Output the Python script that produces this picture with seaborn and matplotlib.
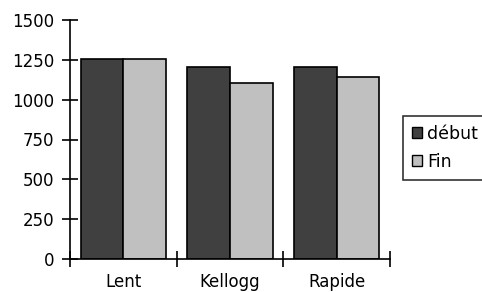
import pandas as pd
import seaborn as sns
import matplotlib.pyplot as plt
from matplotlib.patches import Patch

# valeurs
categories = ['Lent', 'Kellogg', 'Rapide']
series = ['début', 'Fin']
debut = [1255, 1202, 1202]
fin = [1255, 1104, 1141]
yticks = [0, 250, 500, 750, 1000, 1250, 1500]
colors = ['#404040', '#c0c0c0']

df = pd.DataFrame({
    'cat': categories * 2,
    'serie': [series[0]] * len(categories) + [series[1]] * len(categories),
    'val': debut + fin,
})

sns.set_style('white')
plt.rcParams.update({
    'font.family': ['DejaVu Sans'],
    'font.size': 12,
    'text.color': 'black',
    'xtick.color': 'black',
    'ytick.color': 'black',
    'xtick.labelcolor': 'black',
    'ytick.labelcolor': 'black',
})

fig = plt.figure(figsize=(4.82, 2.92), dpi=100)
ax = fig.add_axes([70 / 482, 1 - 259 / 292, 320 / 482, 239 / 292])

sns.barplot(data=df, x='cat', y='val', hue='serie', palette=colors,
            edgecolor='black', linewidth=1.2, saturation=1, width=0.8,
            ax=ax, legend=False)

ax.set_xlim(-0.5, len(categories) - 0.5)
ax.set_ylim(0, 1500)
ax.set_yticks(yticks)
ax.set_xlabel('')
ax.set_ylabel('')

for s in ['top', 'right']:
    ax.spines[s].set_visible(False)
for s in ['left', 'bottom']:
    ax.spines[s].set_color('black')
    ax.spines[s].set_linewidth(1.2)

# ticks aux séparations des catégories
ax.set_xticks([i - 0.5 for i in range(len(categories) + 1)], minor=True)
ax.tick_params(axis='x', which='major', length=0, pad=10, labelsize=12)
ax.tick_params(axis='x', which='minor', direction='inout', length=11,
               width=1.2, color='black', bottom=True)
ax.tick_params(axis='y', direction='inout', length=11, width=1.2,
               color='black', pad=6, labelsize=12, left=True)

handles = [Patch(facecolor=c, edgecolor='black', linewidth=1) for c in colors]
leg = fig.legend(handles, series, loc='upper left',
                 bbox_to_anchor=(403 / 482, 1 - 116 / 292),
                 borderaxespad=0, fancybox=False, frameon=True,
                 handlelength=0.6, handleheight=0.6, handletextpad=0.3,
                 labelspacing=0.6, borderpad=0.5, fontsize=12.5)
leg.get_frame().set_edgecolor('black')
leg.get_frame().set_linewidth(1.2)

plt.savefig('out.png', dpi=100)
